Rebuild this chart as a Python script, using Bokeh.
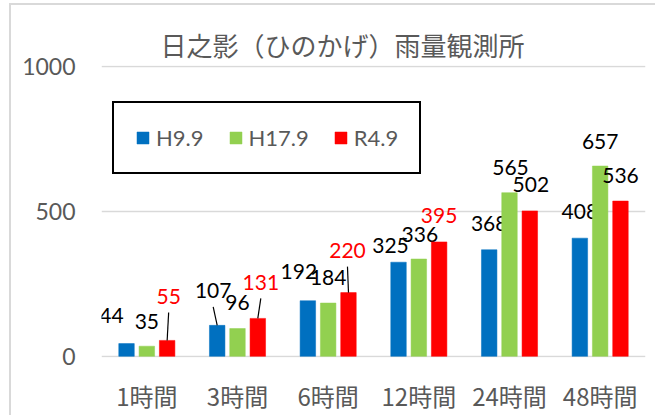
from bokeh.plotting import figure
from bokeh.models import Range1d, FactorRange, FixedTicker, ColumnDataSource
from bokeh.transform import dodge
from bokeh.core.properties import value
from bokeh.embed import file_html
from bokeh.resources import INLINE

# ---- data ----
title_text = "日之影（ひのかげ）雨量観測所"
categories = ["1時間", "3時間", "6時間", "12時間", "24時間", "48時間"]
series_names = ["H9.9", "H17.9", "R4.9"]
h9_9 = [44, 107, 192, 325, 368, 408]
h17_9 = [35, 96, 184, 336, 565, 657]
r4_9 = [55, 131, 220, 395, 502, 536]
y_ticks = [0, 500, 1000]

# ---- style ----
colors = ["#0070C0", "#92D050", "#FF0000"]
dodges = [-0.224, 0.0, 0.224]
bar_width = 0.171
# data label placement (pixels relative to the bar top: dx right, up = upwards)
label_dx = [[-15, -4, -9, -8, 0, 0],
            [0, 0, 0, 1, 1, 0],
            [1.5, 3, -1, 0, 1, 0]]
label_up = [[28, 34.5, 29, 16.5, 26, 26.5],
            [25, 26, 26, 25, 25, 24.5],
            [44, 36, 42, 26, 26, 25.5]]
label_colors = [["black"] * 6,
                ["black"] * 6,
                ["#FF0000", "#FF0000", "#FF0000", "#FF0000", "black", "black"]]
leaders = [[False, True, False, False, False, False],
           [False] * 6,
           [True, True, True, False, False, False]]

FRAME_W, FRAME_H = 544, 292
Y0, Y1 = -4, 1004
px_per_unit = FRAME_H / (Y1 - Y0)
px_per_cat = FRAME_W / len(categories)

p = figure(x_range=FactorRange(factors=categories), y_range=Range1d(Y0, Y1),
           frame_width=FRAME_W, frame_height=FRAME_H,
           min_border_left=90, min_border_right=10, min_border_top=60, min_border_bottom=53,
           output_backend="svg", toolbar_location=None,
           background_fill_color="white", border_fill_color="white",
           outline_line_color=None)
p.styles = {"position": "absolute", "left": "9px", "top": "3px",
            "border-left": "2px solid #d9d9d9", "border-top": "2px solid #d9d9d9"}

all_series = [h9_9, h17_9, r4_9]
for s, (name, vals) in enumerate(zip(series_names, all_series)):
    src = ColumnDataSource(dict(cat=categories, val=vals,
                                txt=[str(v) for v in vals],
                                dx=label_dx[s], dy=[-u for u in label_up[s]],
                                tc=label_colors[s]))
    p.vbar(x=dodge("cat", dodges[s], range=p.x_range), top="val", bottom=0,
           width=bar_width, fill_color=colors[s], line_color=colors[s],
           line_width=0.5, legend_label=name, source=src)
    p.text(x=dodge("cat", dodges[s], range=p.x_range), y="val", text="txt",
           x_offset="dx", y_offset="dy", text_color="tc",
           text_font=value("Lato"), text_font_size="21px",
           text_align="center", text_baseline="middle", source=src)
    for i, flag in enumerate(leaders[s]):
        if not flag:
            continue
        v = vals[i]
        top_val = v + (label_up[s][i] - 16) / px_per_unit
        seg = ColumnDataSource(dict(c=[categories[i]], y0=[v], y1=[top_val]))
        p.segment(x0=dodge("c", dodges[s], range=p.x_range), y0="y0",
                  x1=dodge("c", dodges[s] + label_dx[s][i] / px_per_cat, range=p.x_range),
                  y1="y1", line_color="black", line_width=1.2, source=seg)

# axes
p.yaxis.ticker = FixedTicker(ticks=y_ticks)
p.yaxis.axis_line_color = None
p.yaxis.major_tick_line_color = None
p.yaxis.minor_tick_line_color = None
p.yaxis.major_label_text_font = "Lato"
p.yaxis.major_label_text_font_size = "23px"
p.yaxis.major_label_text_color = "#595959"
p.yaxis.major_label_standoff = 20

p.xaxis.axis_line_color = None
p.xaxis.major_tick_line_color = None
p.xaxis.minor_tick_line_color = None
p.xaxis.major_label_text_font = "Noto Sans CJK JP"
p.xaxis.major_label_text_font_size = "24px"
p.xaxis.major_label_text_color = "#595959"
p.xaxis.major_label_standoff = 14

p.xgrid.grid_line_color = None
p.ygrid.grid_line_color = "#d9d9d9"
p.ygrid.grid_line_width = 1.5

# title
p.title.text = title_text
p.title.align = "left"
p.title.offset = 59
p.title.standoff = 5
p.title.text_font = "Noto Sans CJK JP"
p.title.text_font_size = "26px"
p.title.text_font_style = "normal"
p.title.text_color = "#595959"

# legend
lg = p.legend[0]
lg.location = (11, 183)
lg.orientation = "horizontal"
lg.border_line_color = "black"
lg.border_line_alpha = 1.0
lg.border_line_width = 2
lg.background_fill_color = "white"
lg.background_fill_alpha = 1.0
lg.padding = 21
lg.margin = 0
lg.spacing = 24
lg.glyph_width = 15
lg.glyph_height = 15
lg.label_standoff = 6
lg.label_text_font = "Lato"
lg.label_text_font_size = "22px"
lg.label_text_color = "#595959"

open("out.html", "w").write(file_html(p, INLINE))
